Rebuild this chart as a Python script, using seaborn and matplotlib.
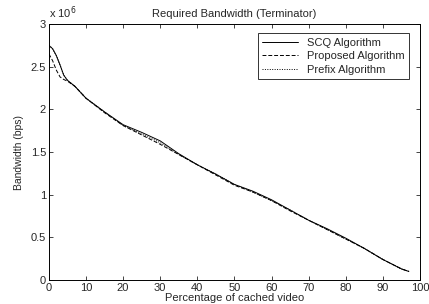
import numpy as np
import pandas as pd
import seaborn as sns
import matplotlib
matplotlib.use("Agg")
import matplotlib.pyplot as plt

# values (bandwidth in units of 1e6 bps)
pct = [0, 1, 2, 3, 4, 5, 7, 10, 15, 20, 25, 30, 35, 40, 45, 50, 55, 60, 65, 70, 75, 80, 85, 90, 95, 97]
scq = [2.75, 2.71, 2.63, 2.52, 2.40, 2.34, 2.27, 2.13, 1.97, 1.82, 1.73, 1.63, 1.48, 1.35, 1.24, 1.12, 1.04, 0.94, 0.82, 0.70, 0.60, 0.49, 0.37, 0.24, 0.13, 0.10]
proposed = [2.65, 2.57, 2.46, 2.38, 2.35, 2.33, 2.27, 2.13, 1.96, 1.81, 1.70, 1.59, 1.47, 1.35, 1.23, 1.11, 1.03, 0.93, 0.81, 0.70, 0.59, 0.48, 0.37, 0.24, 0.13, 0.10]
prefix = [2.75, 2.71, 2.63, 2.52, 2.40, 2.34, 2.27, 2.13, 1.97, 1.81, 1.71, 1.61, 1.47, 1.35, 1.24, 1.12, 1.03, 0.93, 0.82, 0.70, 0.59, 0.48, 0.37, 0.24, 0.13, 0.10]
names = ["SCQ Algorithm", "Proposed Algorithm", "Prefix Algorithm"]

df = pd.concat([
    pd.DataFrame({"pct": pct, "bw": scq, "alg": names[0]}),
    pd.DataFrame({"pct": pct, "bw": proposed, "alg": names[1]}),
    pd.DataFrame({"pct": pct, "bw": prefix, "alg": names[2]}),
])

sns.set_style("ticks")
plt.rcParams['font.family'] = ['Liberation Sans', 'DejaVu Sans']
plt.rcParams['xtick.direction'] = 'in'
plt.rcParams['ytick.direction'] = 'in'

fig = plt.figure(figsize=(4.29, 3.04), dpi=100)
ax = fig.add_axes([0.114, 0.079, 0.865, 0.842])

sns.lineplot(data=df, x="pct", y="bw", hue="alg", style="alg",
             palette=["black", "black", "black"],
             dashes=[(None, None), (4, 2), (1, 1.5)],
             linewidth=0.7, ax=ax)

ax.set_xlim(0, 100)
ax.set_ylim(0, 3)
ax.set_xticks(range(0, 101, 10))
ax.set_yticks([0, 0.5, 1, 1.5, 2, 2.5, 3])
ax.set_yticklabels(["0", "0.5", "1", "1.5", "2", "2.5", "3"])
ax.tick_params(labelsize=8, length=3, width=0.6, top=True, right=True, pad=2)
for s in ax.spines.values():
    s.set_linewidth(0.7)
    s.set_color("black")

ax.set_title("Required Bandwidth (Terminator)", fontsize=8, pad=5)
ax.set_xlabel("Percentage of cached video", fontsize=8, labelpad=0)
ax.set_ylabel("Bandwidth (bps)", fontsize=7.5, labelpad=5)
ax.text(0.0, 1.01, r"x 10$^6$", transform=ax.transAxes, fontsize=8,
        ha="left", va="bottom")

leg = ax.legend(loc="upper right", fontsize=8, frameon=True, fancybox=False,
                edgecolor="black", handlelength=3.2, borderpad=0.4,
                labelspacing=0.3, bbox_to_anchor=(0.985, 0.985))
leg.get_frame().set_linewidth(0.7)

fig.savefig("out.png", dpi=100)
